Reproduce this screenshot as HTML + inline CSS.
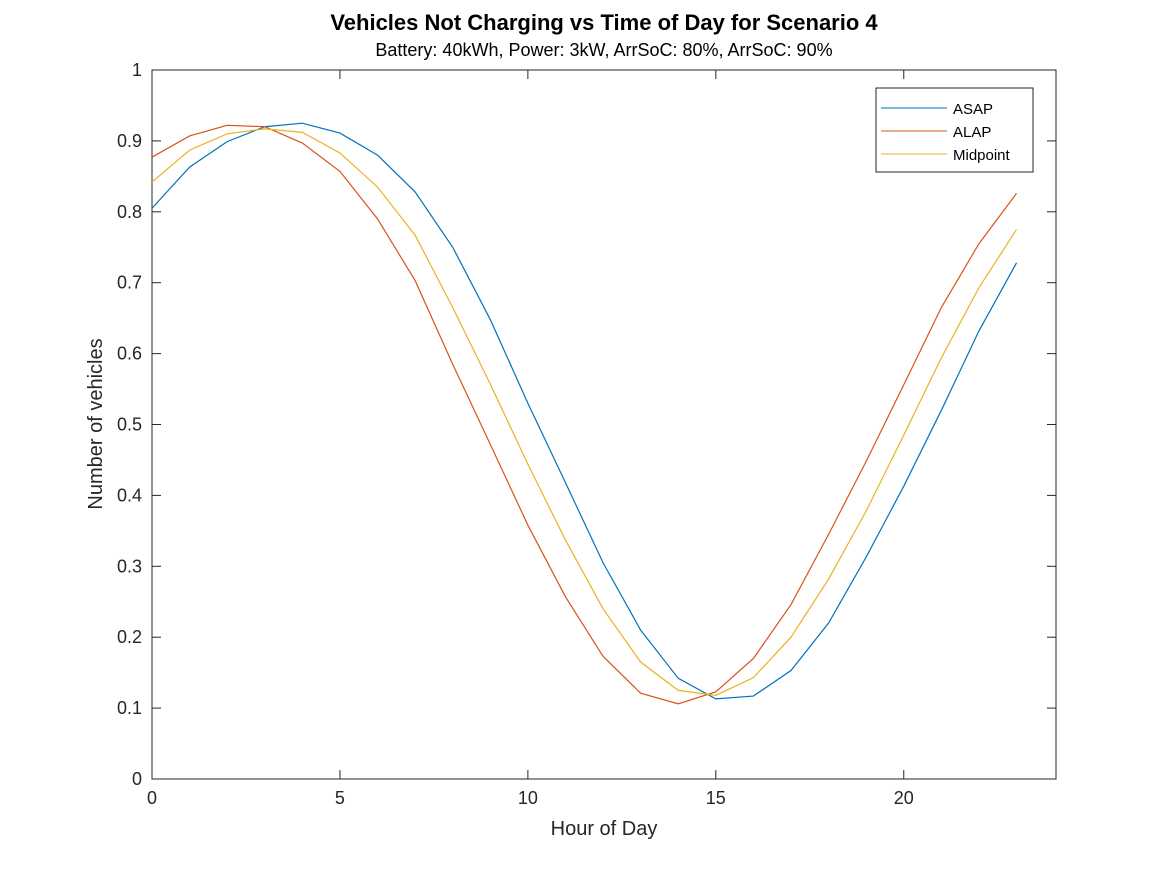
<!DOCTYPE html>
<html><head><meta charset="utf-8"><style>
body{margin:0;background:#fff;font-family:"Liberation Sans",sans-serif;}
svg text{font-family:"Liberation Sans",sans-serif;}
</style></head><body>
<svg id="chart" width="1167" height="875" xmlns="http://www.w3.org/2000/svg">
<rect width="1167" height="875" fill="#fff"/>
<text x="604" y="30" text-anchor="middle" font-size="22" font-weight="bold" fill="#000">Vehicles Not Charging vs Time of Day for Scenario 4</text>
<text x="604" y="56" text-anchor="middle" font-size="18" fill="#000">Battery: 40kWh, Power: 3kW, ArrSoC: 80%, ArrSoC: 90%</text>
<g id="axes"></g>
<g id="series"></g>
<text x="604" y="835" text-anchor="middle" font-size="20" fill="#262626">Hour of Day</text>
<text transform="translate(102,424) rotate(-90)" text-anchor="middle" font-size="20" fill="#262626">Number of vehicles</text>
<g>
<rect x="876" y="88" width="157" height="84" fill="#fff" stroke="#262626" stroke-width="1"/>
<line x1="881" y1="108" x2="947" y2="108" stroke="#0072BD"/>
<text x="953" y="114" font-size="15" fill="#000">ASAP</text>
<line x1="881" y1="131" x2="947" y2="131" stroke="#D95319"/>
<text x="953" y="137" font-size="15" fill="#000">ALAP</text>
<line x1="881" y1="154" x2="947" y2="154" stroke="#EDB120"/>
<text x="953" y="160" font-size="15" fill="#000">Midpoint</text>
</g>
</svg>
<script>
const hours=[0,1,2,3,4,5,6,7,8,9,10,11,12,13,14,15,16,17,18,19,20,21,22,23];
const asap=[0.805,0.863,0.899,0.920,0.925,0.911,0.880,0.828,0.750,0.648,0.530,0.418,0.305,0.210,0.142,0.113,0.117,0.153,0.220,0.313,0.413,0.520,0.632,0.728];
const alap=[0.877,0.907,0.922,0.920,0.897,0.857,0.790,0.703,0.585,0.472,0.358,0.257,0.173,0.121,0.106,0.123,0.170,0.246,0.345,0.448,0.556,0.665,0.755,0.826];
const midpoint=[0.842,0.887,0.910,0.917,0.912,0.883,0.835,0.767,0.665,0.557,0.444,0.337,0.240,0.165,0.125,0.118,0.143,0.200,0.282,0.378,0.485,0.594,0.693,0.775];
const xTicks=[0,5,10,15,20];
const yTicks=[0,0.1,0.2,0.3,0.4,0.5,0.6,0.7,0.8,0.9,1];
const yTickLabels=["0","0.1","0.2","0.3","0.4","0.5","0.6","0.7","0.8","0.9","1"];
const X0=152,X1=1056,Y0=779,Y1=70,XMAX=24.05;
const xs=v=>X0+v/XMAX*(X1-X0);
const ys=v=>Y0-v*(Y0-Y1);
const NS="http://www.w3.org/2000/svg";
const axes=document.getElementById('axes');
function mk(tag,attrs,parent){const e=document.createElementNS(NS,tag);for(const k in attrs)e.setAttribute(k,attrs[k]);parent.appendChild(e);return e;}
const box=mk('rect',{x:X0,y:Y1,width:X1-X0,height:Y0-Y1,fill:'none',stroke:'#262626','stroke-width':1},axes);


xTicks.forEach(t=>{const x=xs(t);
mk('line',{x1:x,y1:Y0,x2:x,y2:Y0-9,stroke:'#262626'},axes);
mk('line',{x1:x,y1:Y1,x2:x,y2:Y1+9,stroke:'#262626'},axes);
const tx=mk('text',{x:x,y:Y0+25,'text-anchor':'middle','font-size':18,fill:'#262626'},axes);tx.textContent=t;

});
yTicks.forEach((t,i)=>{const y=ys(t);
mk('line',{x1:X0,y1:y,x2:X0+9,y2:y,stroke:'#262626'},axes);
mk('line',{x1:X1,y1:y,x2:X1-9,y2:y,stroke:'#262626'},axes);
const tx=mk('text',{x:X0-10,y:y+6,'text-anchor':'end','font-size':18,fill:'#262626'},axes);tx.textContent=yTickLabels[i];

});
const ser=document.getElementById('series');
[[asap,'#0072BD','asap-line'],[alap,'#D95319','alap-line'],[midpoint,'#EDB120','midpoint-line']].forEach(([d,c,n])=>{
const p=mk('polyline',{points:hours.map((h,i)=>xs(h)+','+ys(d[i])).join(' '),fill:'none',stroke:c,'stroke-width':1.2},ser);

});
</script>
</body></html>
